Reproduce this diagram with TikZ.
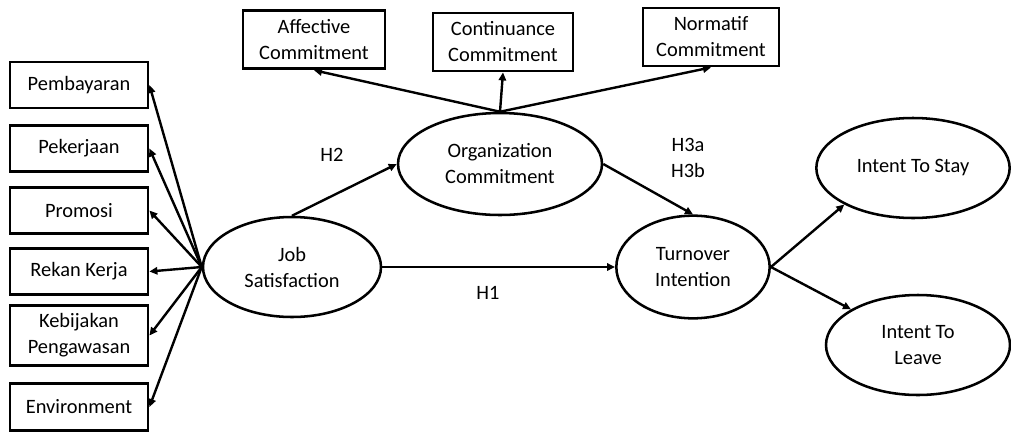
\documentclass[tikz,border=0pt]{standalone}
\usepackage{fontspec}
\setmainfont{Carlito}
\usetikzlibrary{shapes.geometric,arrows.meta}
\begin{document}
\begin{tikzpicture}[x=0.75pt,y=-0.75pt,
  font=\fontsize{15.3}{19.5}\selectfont,
  box/.style={draw, line width=2.1pt, align=center, inner sep=1pt},
  latent/.style={draw, ellipse, line width=1.9pt, align=center, inner sep=0pt},
  link/.style={line width=1.8pt, -{Triangle[length=6pt,width=5.5pt]}},
  hyp/.style={align=center, inner sep=0pt}]
\useasboundingbox (0,0) rectangle (1011,433);

% indicators of job satisfaction
\node[box, minimum width=103.5pt, minimum height=34.5pt] (pay)  at (79,85)    {Pembayaran};
\node[box, minimum width=103.5pt, minimum height=34.5pt] (work) at (79,148.5) {Pekerjaan};
\node[box, minimum width=103.5pt, minimum height=34pt]   (prom) at (79,210.5) {Promosi};
\node[box, minimum width=103.5pt, minimum height=35pt]   (cowk) at (79,271.5) {Rekan Kerja};
\node[box, minimum width=103.5pt, minimum height=45pt]   (supv) at (79,335.5) {Kebijakan\\Pengawasan};
\node[box, minimum width=103.5pt, minimum height=35pt]   (env)  at (79,407)   {Environment};

% commitment dimensions
\node[box, minimum width=106.5pt, minimum height=44pt] (aff)  at (314,39.5) {Affective\\Commitment};
\node[box, minimum width=105pt,   minimum height=43.5pt] (cont) at (503,42) {Continuance\\Commitment};
\node[box, minimum width=102pt,   minimum height=43.5pt] (norm) at (711,37) {Normatif\\Commitment};

% latent constructs
\node[latent, minimum width=133.5pt, minimum height=75pt] (job)  at (292,267) {Job\\Satisfaction};
\node[latent, minimum width=153pt,   minimum height=76.5pt] (org) at (500,164) {Organization\\Commitment};
\node[latent, minimum width=115pt,   minimum height=77pt] (turn) at (693,267) {Turnover\\Intention};
\node[latent, minimum width=145pt,   minimum height=75pt] (stay) at (913,168) {Intent To Stay};
\node[latent, minimum width=138pt,   minimum height=75pt] (leave) at (918,345) {Intent To\\Leave};

% hypothesis labels
\node[hyp] (h2) at (332,155) {H2};
\node[hyp] (h1) at (488,293) {H1};
\node[hyp] (h3) at (688,158) {H3a\\H3b};

% paths
\foreach \t in {pay,work,prom,cowk,supv,env}
  \draw[link] (job.west) -- (\t.east);
\draw[link] (org.north) -- (aff.south);
\draw[link] (org.north) -- (cont.south);
\draw[link] (org.north) -- (norm.south);
\draw[link] (job.north) -- (org.west);
\draw[link] (job.east) -- (turn.west);
\draw[link] (org.east) -- (turn.north);
\draw[link] (turn.east) -- (stay.208);
\draw[link] (turn.east) -- (leave.152);
\end{tikzpicture}
\end{document}
